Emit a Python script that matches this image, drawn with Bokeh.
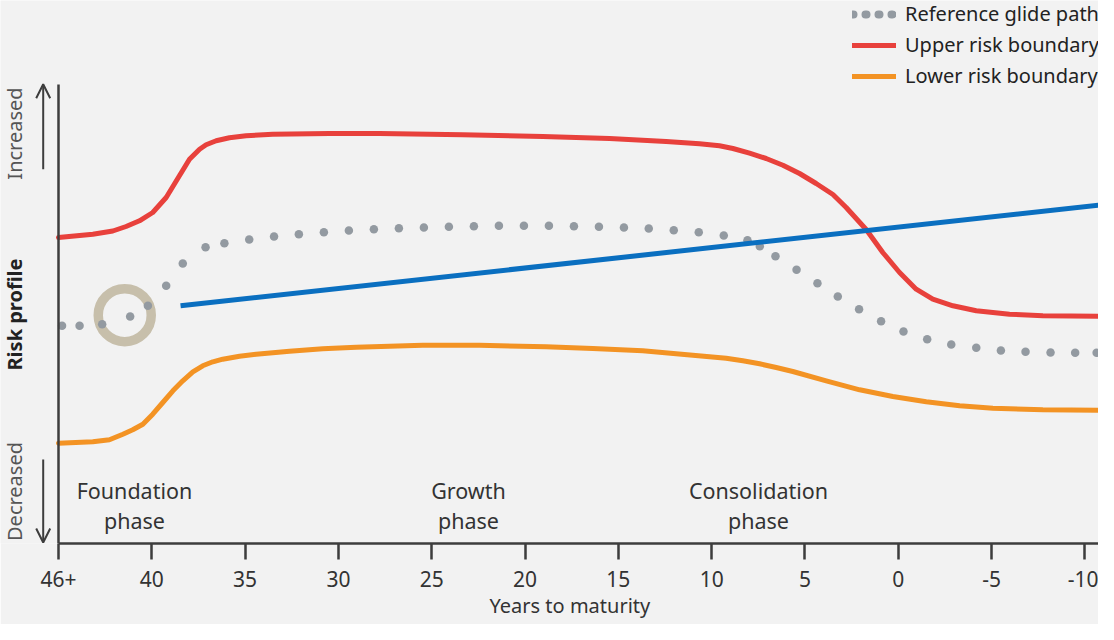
import math
from bokeh.plotting import figure
from bokeh.models import (Range1d, FixedTicker, Label, Arrow, OpenHead,
                          Legend, LegendItem, Title)
from bokeh.embed import file_html
from bokeh.resources import INLINE

# ---------------- data (years to maturity, risk profile units) ----------------
tick_values = [45, 40, 35, 30, 25, 20, 15, 10, 5, 0, -5, -10]
tick_labels = ["46+", "40", "35", "30", "25", "20", "15", "10", "5", "0", "-5", "-10"]

upper_x = [45.0, 43.16, 42.09, 41.38, 40.66, 39.95, 39.23, 38.52, 37.98, 37.44,
           37.09, 36.55, 35.84, 34.95, 33.52, 30.48, 27.80, 23.33, 19.05, 15.47,
           12.44, 10.65, 9.58, 8.86, 7.97, 7.08, 6.18, 5.29, 4.40, 3.50,
           2.79, 1.72, 0.83, -0.07, -0.96, -1.85, -2.93, -4.18, -5.96, -7.75,
           -10.70]
upper_y = [306, 309.3, 312.5, 317, 322.7, 331, 346, 367.7, 384.3, 394.3,
           398.7, 402.7, 405.7, 407.7, 409.3, 410, 410, 408.7, 407, 405,
           402, 399.7, 397.7, 395, 390.3, 385, 378.3, 370, 360, 349,
           336, 314, 291, 271, 254.3, 244.3, 237.7, 232.7, 229.3, 227.7,
           227.3]

lower_x = [45.0, 43.16, 42.27, 41.55, 41.02, 40.48, 39.95, 39.41, 38.87, 38.34,
           37.80, 37.27, 36.73, 36.20, 35.30, 34.41, 32.62, 30.84, 29.05, 25.48,
           22.44, 18.87, 16.37, 13.69, 11.01, 9.22, 8.33, 7.43, 6.54, 5.65,
           3.86, 2.07, 0.29, -1.50, -3.29, -5.07, -7.75, -10.70]
lower_y = [100.3, 101.7, 103.7, 109.3, 113.7, 119.3, 129.3, 141, 152.7, 162.7,
           171.7, 177.7, 181.7, 184.3, 187.3, 189.3, 192.3, 194.7, 196.3, 198.3,
           198.3, 196.7, 195, 192.7, 188.3, 185.3, 182.7, 179.7, 176, 172,
           162.7, 153.7, 147, 141.7, 137.7, 135.3, 133.7, 133.3]

glide_x = [44.81, 43.87, 42.66, 41.16, 40.21, 39.23, 38.34, 37.12, 36.11, 34.78,
           33.45, 32.12, 30.78, 29.44, 28.10, 26.76, 25.42, 24.08, 22.74, 21.40,
           20.06, 18.72, 17.38, 16.04, 14.70, 13.37, 12.03, 10.69, 9.35, 8.08,
           7.42, 6.58, 5.45, 4.33, 3.24, 2.10, 0.92, -0.28, -1.55, -2.84,
           -4.18, -5.50, -6.82, -8.16, -9.48, -10.63]
glide_y = [217.7, 217.7, 219.3, 227, 237.7, 257.7, 280, 296.3, 300.3, 304,
           307, 309.2, 311.3, 313, 314.3, 315.3, 316, 316.8, 317.3, 317.7,
           317.7, 317.7, 317.3, 316.7, 316, 315, 313.3, 311.3, 308, 303.3,
           297.3, 287.3, 273.7, 260.3, 247, 234.3, 222.3, 212, 204.3, 199,
           195.7, 193, 191.7, 191, 190.7, 190.7]

member_x = [38.46, -11.18]
member_y = [237.7, 339.3]

marker_x = [41.45]
marker_y = [228.3]

phase_names = [("Foundation", "phase"), ("Growth", "phase"), ("Consolidation", "phase")]
phase_centres = [40.93, 23.03, 7.49]

# ---------------- styling ----------------
BG = "#f2f2f2"
RED = "#e8413c"
ORANGE = "#f39324"
BLUE = "#0a6fc0"
GRAY = "#939aa1"
RING = "#c7bfab"
AX = "#3d3d3d"
TXT = "#333333"
FONT = "Noto Sans"

p = figure(width=1098, height=624, output_backend="svg", toolbar_location=None,
           x_range=Range1d(48.108, -10.73), y_range=Range1d(0, 543),
           min_border_left=0, min_border_right=0, min_border_top=0,
           min_border_bottom=81, background_fill_color=BG,
           border_fill_color=BG, outline_line_color=None)
p.xgrid.visible = False
p.ygrid.visible = False

p.scatter(marker_x, marker_y, marker="circle", size=53, fill_color=None,
          line_color=RING, line_width=9.5)
upper = p.line(upper_x, upper_y, line_color=RED, line_width=5,
               line_cap="round", line_join="round")
lower = p.line(lower_x, lower_y, line_color=ORANGE, line_width=5,
               line_cap="round", line_join="round")
p.scatter(glide_x, glide_y, marker="circle", size=8.5, fill_color=GRAY,
          line_color=None)
p.line(member_x, member_y, line_color=BLUE, line_width=5)
# legend key for the dotted glide path (draws nothing in the plot area)
glide_key = p.line([float("nan")], [float("nan")], line_color=GRAY, line_width=8,
                   line_dash="1 12", line_cap="round")

legend = Legend(items=[LegendItem(label="Reference glide path", renderers=[glide_key]),
                       LegendItem(label="Upper risk boundary", renderers=[upper]),
                       LegendItem(label="Lower risk boundary", renderers=[lower])],
                location=(852, 454), glyph_width=44, glyph_height=20,
                label_standoff=9, spacing=4, padding=0, margin=0,
                background_fill_alpha=0, border_line_color=None,
                label_text_font=FONT, label_text_font_size="20px",
                label_text_color="#222222")
p.add_layout(legend)

# x axis
xa = p.xaxis[0]
xa.ticker = FixedTicker(ticks=tick_values)
xa.major_label_overrides = dict(zip(tick_values, tick_labels))
xa.bounds = (-10.73, 45)
xa.axis_line_color = AX
xa.axis_line_width = 2.5
xa.major_tick_line_color = AX
xa.major_tick_line_width = 2.5
xa.major_tick_out = 16
xa.major_tick_in = 0
xa.minor_tick_line_color = None
xa.major_label_standoff = 11
xa.major_label_text_font = FONT
xa.major_label_text_font_size = "21px"
xa.major_label_text_color = TXT

p.add_layout(Title(text="Years to maturity", align="left", offset=489,
                   standoff=0, text_font=FONT, text_font_size="20px",
                   text_font_style="normal", text_color=TXT), "below")

# y axis (drawn at the 46+ position)
ya = p.yaxis[0]
ya.fixed_location = 45
ya.ticker = FixedTicker(ticks=[])
ya.bounds = (0, 459)
ya.axis_line_color = AX
ya.axis_line_width = 2.5
ya.major_tick_out = 0
ya.major_tick_in = 0
ya.minor_tick_line_color = None

p.add_layout(Label(x=47.37, y=229, text="Risk profile", angle=math.pi / 2,
                   text_align="center", text_baseline="middle",
                   text_font=FONT, text_font_size="20px", text_font_style="bold",
                   text_color="#222222"))

# direction hints on the risk axis
for txt, yc in [("Increased", 410), ("Decreased", 52)]:
    p.add_layout(Label(x=47.37, y=yc, text=txt, angle=math.pi / 2,
                       text_align="center", text_baseline="middle",
                       text_font=FONT, text_font_size="20px", text_color="#555555"))
p.add_layout(Arrow(x_start=45.82, y_start=374.3, x_end=45.82, y_end=459.3,
                   line_color=AX, line_width=2,
                   end=OpenHead(size=14, line_color=AX, line_width=2)))
p.add_layout(Arrow(x_start=45.82, y_start=84, x_end=45.82, y_end=1,
                   line_color=AX, line_width=2,
                   end=OpenHead(size=14, line_color=AX, line_width=2)))

# phase labels
for (l1, l2), xc in zip(phase_names, phase_centres):
    p.add_layout(Label(x=xc, y=53, text=l1, text_align="center",
                       text_baseline="alphabetic", text_font=FONT,
                       text_font_size="21.5px", text_color=TXT))
    p.add_layout(Label(x=xc, y=23, text=l2, text_align="center",
                       text_baseline="alphabetic", text_font=FONT,
                       text_font_size="21.5px", text_color=TXT))

open("out.html", "w").write(file_html(p, INLINE))
